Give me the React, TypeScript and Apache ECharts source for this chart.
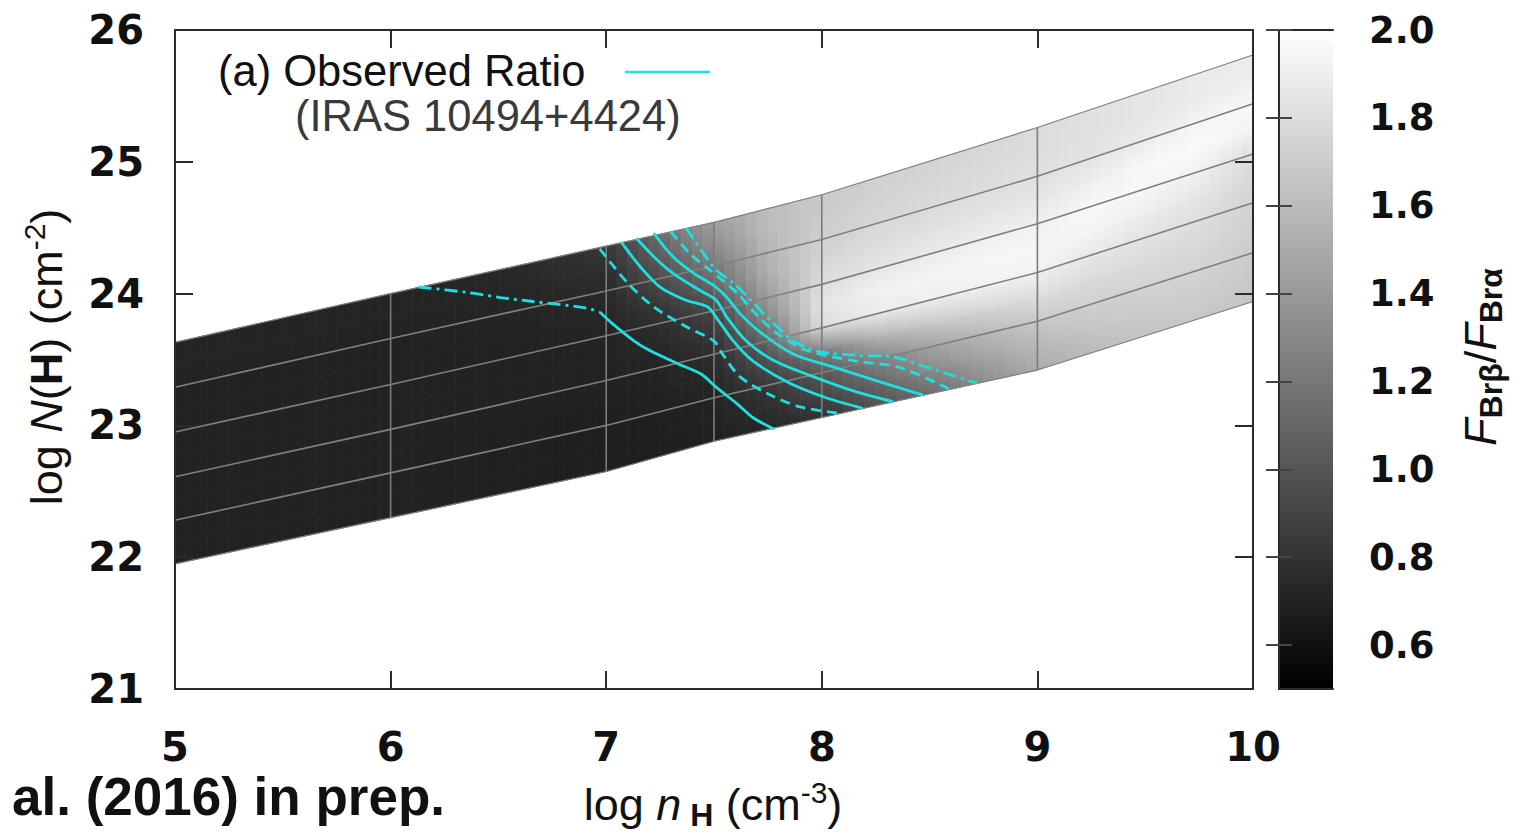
import React, { useEffect, useRef } from 'react';
import * as echarts from 'echarts';

// Model grid nodes along log n_H and the six column-density tracks (bottom -> top)
const nodeX = [5, 6, 7, 7.5, 8, 9, 10];
const track0 = [21.95, 22.30, 22.65, 22.88, 23.06, 23.42, 23.94];
const track1 = [22.28, 22.64, 23.00, 23.21, 23.40, 23.79, 24.31];
const track2 = [22.61, 22.97, 23.34, 23.54, 23.74, 24.16, 24.69];
const track3 = [22.95, 23.31, 23.68, 23.87, 24.07, 24.53, 25.06];
const track4 = [23.29, 23.66, 24.02, 24.21, 24.41, 24.89, 25.44];
const track5 = [23.63, 24.00, 24.36, 24.54, 24.75, 25.26, 25.81];
const tracks = [track0, track1, track2, track3, track4, track5];
const separatorX = [6, 7, 7.5, 8, 9];

// Br-beta / Br-alpha ratio sampled on columns (log n_H) x track levels (0..5 step 0.5)
const heatX = [5, 6, 6.5, 7, 7.25, 7.5, 7.75, 8, 8.25, 8.5, 8.75, 9, 9.25, 9.5, 9.75, 10];
const heatLevels = [0, 0.5, 1, 1.5, 2, 2.5, 3, 3.5, 4, 4.5, 5];
const ratioGrid = [
  [0.70, 0.70, 0.70, 0.70, 0.70, 0.70, 0.70, 0.70, 0.70, 0.71, 0.71],
  [0.70, 0.70, 0.70, 0.70, 0.70, 0.70, 0.70, 0.70, 0.70, 0.71, 0.71],
  [0.69, 0.69, 0.69, 0.69, 0.70, 0.70, 0.70, 0.70, 0.71, 0.72, 0.73],
  [0.68, 0.68, 0.68, 0.69, 0.70, 0.70, 0.71, 0.72, 0.74, 0.77, 0.82],
  [0.68, 0.68, 0.69, 0.70, 0.71, 0.73, 0.77, 0.84, 0.95, 1.05, 1.14],
  [0.69, 0.70, 0.71, 0.73, 0.77, 0.83, 0.91, 1.08, 1.22, 1.34, 1.44],
  [0.72, 0.77, 0.83, 0.95, 1.09, 1.28, 1.42, 1.52, 1.57, 1.60, 1.61],
  [0.78, 0.91, 1.02, 1.25, 1.80, 1.85, 1.80, 1.76, 1.72, 1.70, 1.68],
  [0.98, 1.10, 1.26, 1.55, 1.88, 1.92, 1.85, 1.80, 1.76, 1.74, 1.72],
  [1.13, 1.30, 1.45, 1.68, 1.90, 1.94, 1.88, 1.82, 1.78, 1.76, 1.74],
  [1.33, 1.45, 1.58, 1.75, 1.92, 1.95, 1.90, 1.84, 1.80, 1.78, 1.76],
  [1.50, 1.58, 1.68, 1.80, 1.92, 1.95, 1.91, 1.85, 1.82, 1.80, 1.79],
  [1.60, 1.66, 1.72, 1.78, 1.86, 1.94, 1.96, 1.90, 1.84, 1.82, 1.82],
  [1.65, 1.70, 1.74, 1.78, 1.83, 1.89, 1.95, 1.96, 1.88, 1.85, 1.85],
  [1.67, 1.71, 1.74, 1.77, 1.80, 1.85, 1.92, 1.97, 1.94, 1.88, 1.88],
  [1.66, 1.68, 1.70, 1.72, 1.74, 1.76, 1.80, 1.93, 1.96, 1.90, 1.88],
];

// Observed-ratio contours [log n_H, log N(H)]
const contourA1 = [[6.13, 24.05], [6.35, 24.01], [6.51, 23.97], [6.66, 23.94], [6.77, 23.92], [6.91, 23.89], [6.97, 23.86]];
const contourA2 = [[6.97, 23.86], [7.03, 23.77], [7.13, 23.64], [7.20, 23.57], [7.33, 23.47], [7.44, 23.39], [7.51, 23.29], [7.61, 23.16], [7.68, 23.06], [7.78, 22.97]];
const contourB = [[6.97, 24.34], [7.10, 24.08], [7.22, 23.90], [7.37, 23.75], [7.50, 23.64], [7.54, 23.54], [7.62, 23.37], [7.75, 23.24], [7.90, 23.14], [8.09, 23.09]];
const contourC = [[7.07, 24.39], [7.16, 24.20], [7.25, 24.05], [7.37, 23.95], [7.47, 23.90], [7.51, 23.82], [7.59, 23.64], [7.68, 23.49], [7.84, 23.33], [8.02, 23.21], [8.19, 23.13]];
const contourD = [[7.14, 24.42], [7.24, 24.25], [7.33, 24.13], [7.44, 24.02], [7.51, 23.95], [7.56, 23.82], [7.65, 23.64], [7.78, 23.49], [7.96, 23.37], [8.15, 23.26], [8.33, 23.18]];
const contourE = [[7.22, 24.46], [7.31, 24.28], [7.41, 24.15], [7.50, 24.06], [7.56, 23.97], [7.62, 23.85], [7.72, 23.70], [7.87, 23.54], [8.06, 23.44], [8.27, 23.33], [8.47, 23.23]];
const contourF = [[7.30, 24.47], [7.39, 24.30], [7.48, 24.18], [7.54, 24.10], [7.61, 24.00], [7.68, 23.87], [7.79, 23.70], [7.93, 23.57], [8.15, 23.49], [8.36, 23.44], [8.60, 23.27]];
const contourG = [[7.37, 24.50], [7.44, 24.33], [7.51, 24.18], [7.59, 24.08], [7.67, 23.95], [7.76, 23.80], [7.87, 23.64], [7.99, 23.56], [8.18, 23.53], [8.33, 23.52], [8.49, 23.44], [8.72, 23.32]];

const colorRange = [0.5, 2.0];
const colorbarTicks = [0.6, 0.8, 1.0, 1.2, 1.4, 1.6, 1.8, 2.0];

const CYAN = '#1ee0e0';
const TICK_FONT = 'DejaVu Sans';
const TEXT_FONT = 'Liberation Sans';

function trackY(k: number, x: number): number {
  const t = tracks[k];
  for (let n = 0; n < nodeX.length - 1; n++) {
    if (x <= nodeX[n + 1] || n === nodeX.length - 2) {
      const f = (x - nodeX[n]) / (nodeX[n + 1] - nodeX[n]);
      return t[n] + f * (t[n + 1] - t[n]);
    }
  }
  return t[t.length - 1];
}

function levelY(level: number, x: number): number {
  const k = Math.min(Math.floor(level), tracks.length - 2);
  const f = level - k;
  return trackY(k, x) * (1 - f) + trackY(k + 1, x) * f;
}

function gray(v: number): string {
  const t = Math.max(0, Math.min(1, (v - colorRange[0]) / (colorRange[1] - colorRange[0])));
  const g = Math.round(255 * t);
  return `rgb(${g},${g},${g})`;
}

function buildOption(): any {
  const heatCells: number[][] = [];
  for (let i = 0; i < heatX.length - 1; i++) {
    for (let j = 0; j < heatLevels.length - 1; j++) heatCells.push([i, j]);
  }

  const heatSeries = {
    type: 'custom',
    xAxisIndex: 0,
    yAxisIndex: 0,
    silent: true,
    z: 1,
    data: heatCells,
    renderItem: (_params: any, api: any) => {
      const i = api.value(0);
      const j = api.value(1);
      const x0 = heatX[i];
      const x1 = heatX[i + 1];
      const l0 = heatLevels[j];
      const l1 = heatLevels[j + 1];
      const n = Math.max(1, Math.round((x1 - x0) / 0.05));
      const children: any[] = [];
      for (let s = 0; s < n; s++) {
        const xa = x0 + ((x1 - x0) * s) / n;
        const xb = x0 + ((x1 - x0) * (s + 1)) / n;
        const f = ((xa + xb) / 2 - x0) / (x1 - x0);
        const vb = ratioGrid[i][j] * (1 - f) + ratioGrid[i + 1][j] * f;
        const vt = ratioGrid[i][j + 1] * (1 - f) + ratioGrid[i + 1][j + 1] * f;
        const p1 = api.coord([xa, levelY(l0, xa)]);
        const p2 = api.coord([xb, levelY(l0, xb)]);
        const p3 = api.coord([xb, levelY(l1, xb)]);
        const p4 = api.coord([xa, levelY(l1, xa)]);
        const grad = new echarts.graphic.LinearGradient(0, 0, 0, 1, [
          { offset: 0, color: gray(vt) },
          { offset: 1, color: gray(vb) },
        ]);
        children.push({
          type: 'polygon',
          shape: { points: [p1, p2, p3, p4] },
          style: { fill: grad, stroke: grad, lineWidth: 0.8 },
        });
      }
      return { type: 'group', children };
    },
  };

  const trackSeries = tracks.map((t, k) => ({
    type: 'line',
    xAxisIndex: 0,
    yAxisIndex: 0,
    silent: true,
    z: 3,
    symbol: 'none',
    data: nodeX.map((x, n) => [x, t[n]]),
    lineStyle: { color: '#808080', width: k === 0 || k === 5 ? 1.2 : 1.6 },
  }));

  const separatorSeries = separatorX.map((x) => {
    const n = nodeX.indexOf(x);
    return {
      type: 'line',
      xAxisIndex: 0,
      yAxisIndex: 0,
      silent: true,
      z: 3,
      symbol: 'none',
      data: [[x, track0[n]], [x, track5[n]]],
      lineStyle: { color: '#7c7c7c', width: 1.6 },
    };
  });

  const contour = (data: number[][], type: any) => ({
    type: 'line',
    xAxisIndex: 0,
    yAxisIndex: 0,
    silent: true,
    z: 4,
    symbol: 'none',
    smooth: 0.3,
    data,
    lineStyle: { color: CYAN, width: 2.8, type },
  });
  const dashed = [10, 6];
  const dashDot = [13, 5, 3, 5];

  const colorbarSeries = {
    type: 'custom',
    xAxisIndex: 2,
    yAxisIndex: 2,
    silent: true,
    z: 1,
    data: [[0, colorRange[0], 1, colorRange[1]]],
    renderItem: (_params: any, api: any) => {
      const tl = api.coord([api.value(0), api.value(3)]);
      const br = api.coord([api.value(2), api.value(1)]);
      return {
        type: 'rect',
        shape: { x: tl[0], y: tl[1], width: br[0] - tl[0], height: br[1] - tl[1] },
        style: {
          fill: new echarts.graphic.LinearGradient(0, 0, 0, 1, [
            { offset: 0, color: gray(colorRange[1]) },
            { offset: 1, color: gray(colorRange[0]) },
          ]),
        },
      };
    },
  };

  const frameLine = { show: true, lineStyle: { color: '#2a2a2a', width: 2 } };
  const tickLabel = { fontFamily: TICK_FONT, fontWeight: 'bold', fontSize: 40, color: '#111' };

  const titleRich = {
    t: { fontFamily: TEXT_FONT, fontSize: 45, fill: '#111', lineHeight: 54 },
    i: { fontFamily: TEXT_FONT, fontSize: 45, fontStyle: 'italic', fill: '#111', lineHeight: 54 },
    b: { fontFamily: TEXT_FONT, fontSize: 45, fontWeight: 'bold', fill: '#111', lineHeight: 54 },
    sup: { fontFamily: TEXT_FONT, fontSize: 30, fill: '#111', verticalAlign: 'top', lineHeight: 28 },
    sub: { fontFamily: TEXT_FONT, fontSize: 32, fontWeight: 'bold', fill: '#111', verticalAlign: 'bottom', lineHeight: 30 },
  };

  return {
    animation: false,
    backgroundColor: '#ffffff',
    grid: [
      { left: 175, top: 30, width: 1078, height: 659 },
      { left: 1279, top: 30, width: 54, height: 659 },
    ],
    xAxis: [
      {
        type: 'value', gridIndex: 0, position: 'bottom', min: 5, max: 10, interval: 1, z: 10,
        axisLine: frameLine,
        axisTick: { show: true, inside: true, length: 18, lineStyle: { color: '#2a2a2a', width: 2 } },
        axisLabel: { ...tickLabel, margin: 38 },
        splitLine: { show: false },
      },
      {
        type: 'value', gridIndex: 0, position: 'top', min: 5, max: 10, interval: 1, z: 10,
        axisLine: frameLine,
        axisTick: { show: true, inside: true, length: 18, lineStyle: { color: '#2a2a2a', width: 2 } },
        axisLabel: { show: false },
        splitLine: { show: false },
      },
      {
        type: 'value', gridIndex: 1, position: 'bottom', min: 0, max: 1, z: 10,
        axisLine: frameLine, axisTick: { show: false }, axisLabel: { show: false }, splitLine: { show: false },
      },
      {
        type: 'value', gridIndex: 1, position: 'top', min: 0, max: 1, z: 10,
        axisLine: frameLine, axisTick: { show: false }, axisLabel: { show: false }, splitLine: { show: false },
      },
    ],
    yAxis: [
      {
        type: 'value', gridIndex: 0, position: 'left', min: 21, max: 26, interval: 1, z: 10,
        axisLine: frameLine,
        axisTick: { show: true, inside: true, length: 18, lineStyle: { color: '#2a2a2a', width: 2 } },
        axisLabel: { ...tickLabel, margin: 31 },
        splitLine: { show: false },
      },
      {
        type: 'value', gridIndex: 0, position: 'right', min: 21, max: 26, interval: 1, z: 10,
        axisLine: frameLine,
        axisTick: { show: true, inside: true, length: 18, lineStyle: { color: '#2a2a2a', width: 2 } },
        axisLabel: { show: false },
        splitLine: { show: false },
      },
      {
        type: 'value', gridIndex: 1, position: 'right', min: colorRange[0], max: colorRange[1], z: 10,
        axisLine: frameLine,
        axisTick: { show: true, inside: true, length: 13, customValues: colorbarTicks, lineStyle: { color: '#444', width: 2 } },
        axisLabel: { ...tickLabel, fontSize: 37, margin: 36, customValues: colorbarTicks, formatter: (v: number) => v.toFixed(1) },
        splitLine: { show: false },
      },
      {
        type: 'value', gridIndex: 1, position: 'left', min: colorRange[0], max: colorRange[1], z: 10,
        axisLine: frameLine,
        axisTick: { show: true, inside: true, length: 13, customValues: colorbarTicks, lineStyle: { color: '#444', width: 2 } },
        axisLabel: { show: false },
        splitLine: { show: false },
      },
    ],
    series: [
      heatSeries,
      ...trackSeries,
      ...separatorSeries,
      contour(contourA1, dashDot),
      contour(contourA2, 'solid'),
      contour(contourB, dashed),
      contour(contourC, 'solid'),
      contour(contourD, 'solid'),
      contour(contourE, 'solid'),
      contour(contourF, dashed),
      contour(contourG, dashDot),
      colorbarSeries,
    ],
    graphic: [
      {
        type: 'text', left: 218, top: 49, z: 20,
        style: { text: '(a) Observed Ratio', fontFamily: TEXT_FONT, fontSize: 43.5, fill: '#111' },
      },
      {
        type: 'line', z: 20,
        shape: { x1: 625, y1: 72, x2: 710, y2: 72 },
        style: { stroke: CYAN, lineWidth: 2.5 },
      },
      {
        type: 'text', left: 295, top: 94, z: 20,
        style: { text: '(IRAS 10494+4424)', fontFamily: TEXT_FONT, fontSize: 43.5, fill: '#3a3a3a' },
      },
      {
        type: 'text', left: 12, top: 770, z: 20,
        style: { text: 'al. (2016) in prep.', fontFamily: TEXT_FONT, fontWeight: 'bold', fontSize: 53, fill: '#111' },
      },
      {
        type: 'text', x: 46, y: 357, rotation: Math.PI / 2, z: 20,
        style: {
          x: 0, y: 0, align: 'center', verticalAlign: 'middle',
          text: '{t|log }{i|N}{t|(}{b|H}{t|) (cm}{sup|-2}{t|)}',
          rich: titleRich,
        },
      },
      {
        type: 'text', x: 713, y: 804, z: 20,
        style: {
          x: 0, y: 0, align: 'center', verticalAlign: 'middle',
          text: '{t|log }{i|n}{sub| H}{t| (cm}{sup|-3}{t|)}',
          rich: titleRich,
        },
      },
      {
        type: 'text', x: 1480, y: 357, rotation: Math.PI / 2, z: 20,
        style: {
          x: 0, y: 0, align: 'center', verticalAlign: 'middle',
          text: '{i|F}{sub|Brβ}{t|/}{i|F}{sub|Brα}',
          rich: titleRich,
        },
      },
    ],
  };
}

export default function App() {
  const ref = useRef<HTMLDivElement>(null);
  useEffect(() => {
    if (!ref.current) return;
    const chart = echarts.init(ref.current, null, { renderer: 'svg' });
    chart.setOption(buildOption());
    return () => chart.dispose();
  }, []);
  return (
    <div
      ref={ref}
      style={{ position: 'fixed', left: 0, top: 0, width: 1521, height: 836, background: '#fff' }}
    />
  );
}
